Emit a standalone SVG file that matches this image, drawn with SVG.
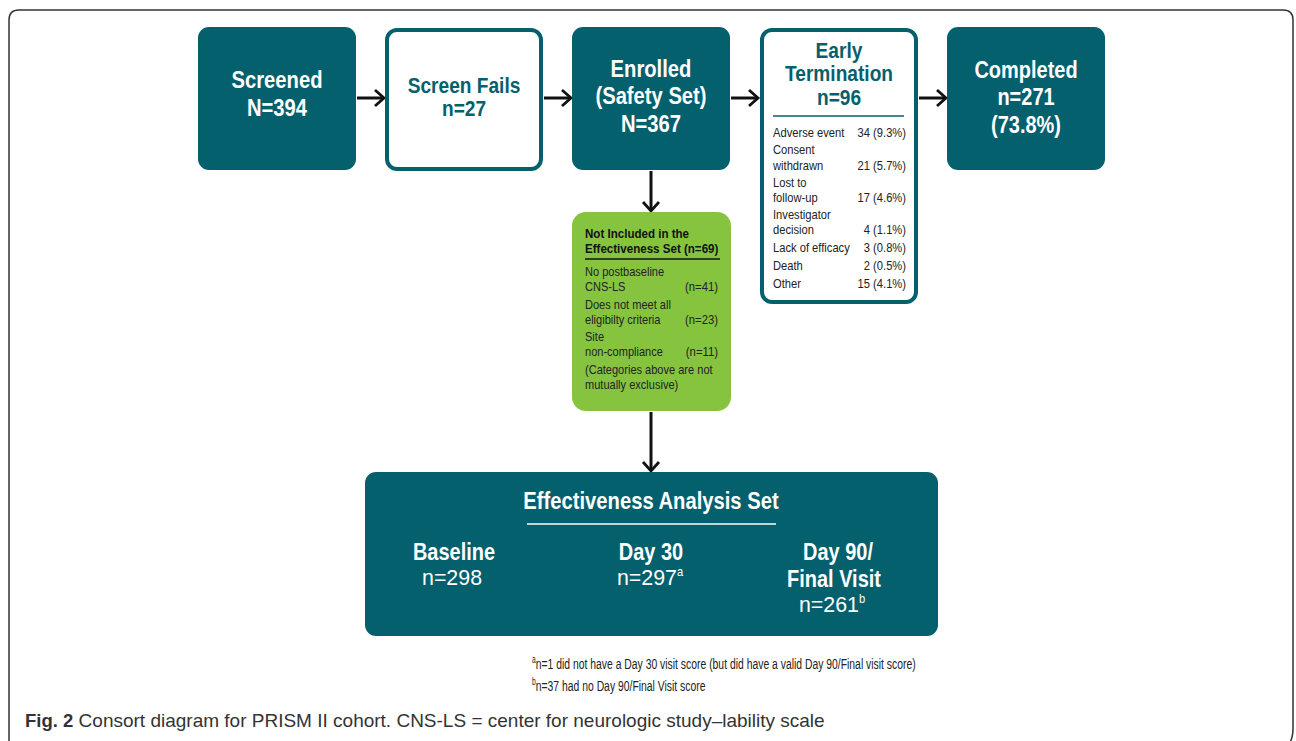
<svg xmlns="http://www.w3.org/2000/svg" width="1296" height="741" viewBox="0 0 1296 741">
<defs>
<style>
.t{font-family:"Liberation Sans",Arial,sans-serif}
.hb{font-weight:bold;fill:#fff;font-size:23.5px;text-anchor:middle}
.ht{font-weight:bold;fill:#05606D;font-size:22.5px;text-anchor:middle}
.sm{font-size:13px;fill:#222}
.smb{font-size:13px;fill:#111;font-weight:bold}
.r{text-anchor:end}
.fill{fill:#05606D}
.open{fill:#fff;stroke:#05606D;stroke-width:4}
.ln{stroke:#111;stroke-width:3;fill:none}
.nw{font-size:23px;fill:#fff;text-anchor:middle}
.fn{font-size:15.5px;fill:#222}
</style>
<marker id="ah" markerWidth="14" markerHeight="20" refX="11" refY="10" orient="auto" markerUnits="userSpaceOnUse">
<path d="M2,2 L11,10 L2,18" fill="none" stroke="#111" stroke-width="2.8"/>
</marker>
</defs>
<rect width="1296" height="741" fill="#fff"/>
<path d="M9,760 V20 Q9,10 19,10 H1283 Q1293,10 1293,20 V728 Q1293,740 1288,745" fill="none" stroke="#333" stroke-width="1.5"/>

<g id="connectors">
<line class="ln" x1="357" y1="98" x2="384" y2="98" marker-end="url(#ah)"/>
<line class="ln" x1="544" y1="98" x2="571" y2="98" marker-end="url(#ah)"/>
<line class="ln" x1="731" y1="98" x2="758" y2="98" marker-end="url(#ah)"/>
<line class="ln" x1="919" y1="98" x2="946" y2="98" marker-end="url(#ah)"/>
<line class="ln" x1="651" y1="171" x2="651" y2="211" marker-end="url(#ah)"/>
<line class="ln" x1="651" y1="412" x2="651" y2="471" marker-end="url(#ah)"/>
</g>

<g id="screened">
<rect class="fill" x="198" y="27" width="158" height="143" rx="11"/>
<text class="t hb" transform="translate(277,88) scale(0.86,1)">Screened</text>
<text class="t hb" transform="translate(277,116) scale(0.86,1)">N=394</text>
</g>

<g id="screen-fails">
<rect class="open" x="387" y="30" width="154" height="139" rx="10"/>
<text class="t ht" transform="translate(464,93) scale(0.85,1)">Screen Fails</text>
<text class="t ht" transform="translate(464,116) scale(0.85,1)">n=27</text>
</g>

<g id="enrolled">
<rect class="fill" x="572" y="27" width="158" height="143" rx="11"/>
<text class="t hb" transform="translate(651,77) scale(0.86,1)">Enrolled</text>
<text class="t hb" transform="translate(651,104) scale(0.86,1)">(Safety Set)</text>
<text class="t hb" transform="translate(651,132) scale(0.86,1)">N=367</text>
</g>

<g id="early-termination">
<rect class="open" x="762" y="30" width="154" height="272" rx="10"/>
<text class="t ht" transform="translate(839,58) scale(0.85,1)">Early</text>
<text class="t ht" transform="translate(839,81) scale(0.85,1)">Termination</text>
<text class="t ht" transform="translate(839,105) scale(0.85,1)">n=96</text>
<line x1="773" y1="116" x2="904" y2="116" stroke="#05606D" stroke-width="1.5"/>
<g class="t sm" transform="translate(773,0) scale(0.86,1)">
<text y="137">Adverse event</text>
<text y="154">Consent</text>
<text y="170">withdrawn</text>
<text y="187">Lost to</text>
<text y="202">follow-up</text>
<text y="219">Investigator</text>
<text y="234">decision</text>
<text y="252">Lack of efficacy</text>
<text y="270">Death</text>
<text y="288">Other</text>
</g>
<g class="t sm" transform="translate(906,0) scale(0.86,1)">
<text class="r" y="137">34 (9.3%)</text>
<text class="r" y="170">21 (5.7%)</text>
<text class="r" y="202">17 (4.6%)</text>
<text class="r" y="234">4 (1.1%)</text>
<text class="r" y="252">3 (0.8%)</text>
<text class="r" y="270">2 (0.5%)</text>
<text class="r" y="288">15 (4.1%)</text>
</g>
</g>

<g id="completed">
<rect class="fill" x="947" y="27" width="158" height="143" rx="11"/>
<text class="t hb" transform="translate(1026,78) scale(0.85,1)">Completed</text>
<text class="t hb" transform="translate(1026,105) scale(0.85,1)">n=271</text>
<text class="t hb" transform="translate(1026,133) scale(0.85,1)">(73.8%)</text>
</g>

<g id="not-included">
<rect x="572" y="212" width="159" height="199" rx="14" fill="#86C440"/>
<g class="t smb" transform="translate(585,0) scale(0.89,1)">
<text y="238">Not Included in the</text>
<text y="253">Effectiveness Set (n=69)</text>
</g>
<line x1="585" y1="259" x2="720" y2="259" stroke="#111" stroke-width="1.5"/>
<g class="t sm" transform="translate(585,0) scale(0.85,1)">
<text y="276">No postbaseline</text>
<text y="291">CNS-LS</text>
<text y="309">Does not meet all</text>
<text y="324">eligibilty criteria</text>
<text y="341">Site</text>
<text y="356">non-compliance</text>
<text y="374">(Categories above are not</text>
<text y="389">mutually exclusive)</text>
</g>
<g class="t sm" transform="translate(718,0) scale(0.87,1)">
<text class="r" y="291">(n=41)</text>
<text class="r" y="324">(n=23)</text>
<text class="r" y="356">(n=11)</text>
</g>
</g>

<g id="effectiveness">
<rect class="fill" x="365" y="472" width="573" height="164" rx="11"/>
<text class="t hb" transform="translate(651,509) scale(0.86,1)">Effectiveness Analysis Set</text>
<line x1="527" y1="524" x2="776" y2="524" stroke="#fff" stroke-width="1.5"/>
<text class="t hb" transform="translate(454,560) scale(0.85,1)">Baseline</text>
<text class="t nw" transform="translate(452,585) scale(0.93,1)">n=298</text>
<text class="t hb" transform="translate(651,560) scale(0.85,1)">Day 30</text>
<text class="t nw" transform="translate(650,585) scale(0.93,1)">n=297<tspan font-size="12" dy="-9">a</tspan></text>
<text class="t hb" transform="translate(838,560) scale(0.85,1)">Day 90/</text>
<text class="t hb" transform="translate(834,587) scale(0.85,1)">Final Visit</text>
<text class="t nw" transform="translate(832,612) scale(0.93,1)">n=261<tspan font-size="12" dy="-9">b</tspan></text>
</g>

<g id="footnotes" class="t fn" transform="translate(532,0) scale(0.67,1)">
<text y="669"><tspan font-size="10" dy="-6">a</tspan><tspan dy="6">n=1 did not have a Day 30 visit score (but did have a valid Day 90/Final visit score)</tspan></text>
<text y="691"><tspan font-size="10" dy="-6">b</tspan><tspan dy="6">n=37 had no Day 90/Final Visit score</tspan></text>
</g>

<g id="caption">
<text class="t" x="25" y="727" font-size="19" fill="#333"><tspan font-weight="bold" font-size="18.5">Fig. 2</tspan> Consort diagram for PRISM II cohort. CNS-LS = center for neurologic study–lability scale</text>
</g>
</svg>
